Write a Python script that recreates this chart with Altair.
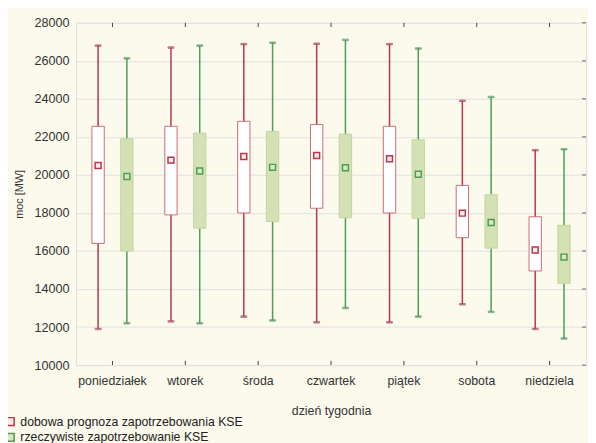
import altair as alt
import pandas as pd

days = ["poniedziałek", "wtorek", "środa", "czwartek", "piątek", "sobota", "niedziela"]
series_names = ["dobowa prognoza zapotrzebowania KSE", "rzeczywiste zapotrzebowanie KSE"]

# forecast (red)
f_min = [11900, 12300, 12550, 12250, 12250, 13200, 11900]
f_q1 = [16400, 17900, 18000, 18250, 18000, 16700, 14950]
f_mid = [20500, 20780, 20970, 21020, 20850, 17990, 16050]
f_q3 = [22560, 22560, 22820, 22650, 22560, 19450, 17800]
f_max = [26800, 26700, 26880, 26900, 26880, 23900, 21300]

# actual (green)
a_min = [12200, 12200, 12350, 13000, 12550, 12800, 11400]
a_q1 = [16000, 17200, 17550, 17750, 17720, 16150, 14300]
a_mid = [19920, 20210, 20400, 20380, 20040, 17500, 15680]
a_q3 = [21900, 22200, 22290, 22150, 21850, 18960, 17350]
a_max = [26130, 26800, 26950, 27100, 26650, 24100, 21350]

y_ticks = [10000, 12000, 14000, 16000, 18000, 20000, 22000, 24000, 26000, 28000]

rows = []
for i, d in enumerate(days):
    rows.append(dict(day=d, series=series_names[0], mn=f_min[i], q1=f_q1[i], mid=f_mid[i], q3=f_q3[i], mx=f_max[i]))
    rows.append(dict(day=d, series=series_names[1], mn=a_min[i], q1=a_q1[i], mid=a_mid[i], q3=a_q3[i], mx=a_max[i]))
df = pd.DataFrame(rows)

W, H = 517, 347
RED = "#b8374c"
GREEN = "#4f9c52"

xscale = alt.Scale(paddingInner=0.21, paddingOuter=0.105)
xaxis = alt.Axis(title="dzień tygodnia", labelAngle=0, ticks=False, domain=False,
                 labelFontSize=12.5, labelPadding=10, titleFontSize=12.5,
                 titleFontWeight="normal", titlePadding=18,
                 labelColor="#333", titleColor="#333")
xenc = alt.X("day:N", sort=days, scale=xscale, axis=xaxis)
xoff = alt.XOffset("series:N", sort=series_names,
                   scale=alt.Scale(paddingInner=0, paddingOuter=0))
yscale = alt.Scale(domain=[10000, 28000], nice=False, zero=False)
yaxis = alt.Axis(title="moc [MW]", values=y_ticks, tickSize=0, domain=False,
                 grid=True, gridColor="#e2e2e2", labelFontSize=12.8, labelOverlap=False,
                 labelPadding=7, titleFontSize=11, titleFontWeight="normal",
                 titlePadding=10, labelColor="#333", titleColor="#333", format="d")

def Y(field):
    return alt.Y(field, scale=yscale, axis=yaxis)

def stroke_enc(rng, legend=None):
    return alt.Stroke("series:N", sort=series_names,
                      scale=alt.Scale(domain=series_names, range=rng), legend=legend)

base = alt.Chart(df)

whisk = base.mark_rule(strokeWidth=1.5).encode(
    x=xenc, xOffset=xoff, y=Y("mn:Q"), y2="mx:Q",
    stroke=stroke_enc([RED, GREEN]),
)
cap_lo = base.mark_tick(size=6, thickness=1.5).encode(
    x=xenc, xOffset=xoff, y=Y("mn:Q"),
    stroke=stroke_enc([RED, GREEN]),
)
cap_hi = base.mark_tick(size=6, thickness=1.5).encode(
    x=xenc, xOffset=xoff, y=Y("mx:Q"),
    stroke=stroke_enc([RED, GREEN]),
)
box = base.mark_bar(size=12.5, strokeWidth=1).encode(
    x=xenc, xOffset=xoff, y=Y("q1:Q"), y2="q3:Q",
    fill=alt.Fill("series:N", sort=series_names,
                  scale=alt.Scale(domain=series_names, range=["#ffffff", "#d4e1b4"]), legend=None),
    stroke=stroke_enc(["#c96d7b", "#c2d4a0"]),
)

leg = alt.Legend(title=None, orient="none", legendX=-73, legendY=398,
                 symbolType="square", symbolSize=64, symbolStrokeWidth=1.5,
                 labelFontSize=12.5, rowPadding=1, labelColor="#222",
                 labelLimit=400, labelOffset=4)
marker = base.mark_point(shape="square", size=36, filled=True, strokeWidth=1.5, opacity=1).encode(
    x=xenc, xOffset=xoff, y=Y("mid:Q"),
    fill=alt.Fill("series:N", sort=series_names,
                  scale=alt.Scale(domain=series_names, range=["#fbeaea", "#d6e8c2"]), legend=leg),
    stroke=alt.Stroke("series:N", sort=series_names,
                      scale=alt.Scale(domain=series_names, range=[RED, GREEN]), legend=leg),
)

tick_df = pd.DataFrame({"day": days, "lo": [10000] * 7, "lo2": [10220] * 7,
                        "hi": [28000] * 7, "hi2": [27780] * 7})
bot_ticks = alt.Chart(tick_df).mark_rule(color="#444", strokeWidth=1).encode(
    x=xenc, y=Y("lo:Q"), y2="lo2:Q",
)
top_ticks = alt.Chart(tick_df).mark_rule(color="#444", strokeWidth=1).encode(
    x=xenc, y=Y("hi:Q"), y2="hi2:Q",
)
yt_df = pd.DataFrame({"v": y_ticks})
right_ticks = alt.Chart(yt_df).mark_rule(color="#666", strokeWidth=1).encode(
    x=alt.value(W - 4), x2=alt.value(W), y=Y("v:Q"),
)

chart = alt.layer(whisk, cap_lo, cap_hi, box, marker, bot_ticks, top_ticks, right_ticks).resolve_scale(
    stroke="independent", fill="independent"
).properties(
    width=W, height=H,
    autosize=alt.AutoSizeParams(type="none"),
    padding={"left": 69, "top": 12, "right": 2, "bottom": 80},
    background="#fcf9ed",
).configure_view(
    stroke="#444", strokeWidth=1, fill="#ffffff"
).configure(font="Liberation Sans")

chart.save("out.html", embed_options={"renderer": "svg", "actions": False})
